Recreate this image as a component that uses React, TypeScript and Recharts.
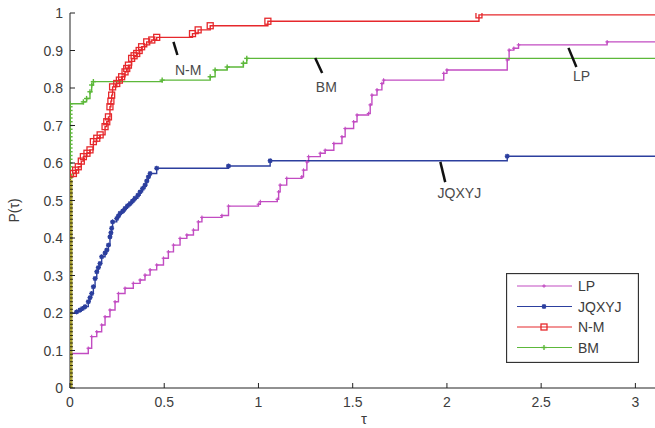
import React from 'react';
import { LineChart, Line, XAxis, YAxis, Legend, ReferenceLine, ReferenceDot } from 'recharts';

// ---------- data ----------
const TAU_TICKS = [0, 0.5, 1, 1.5, 2, 2.5, 3];
const P_TICKS = [0, 0.1, 0.2, 0.3, 0.4, 0.5, 0.6, 0.7, 0.8, 0.9, 1];
const TAU_MAX = 3.12;

const SERIES_NAMES = ['LP', 'JQXYJ', 'N-M', 'BM'];

const LP_POINTS: [number, number][] = [
  [0, 0.092], [0.097, 0.106], [0.115, 0.137], [0.142, 0.15], [0.168, 0.168], [0.186, 0.19],
  [0.212, 0.208], [0.239, 0.23], [0.257, 0.252], [0.292, 0.266], [0.336, 0.279], [0.372, 0.288],
  [0.398, 0.301], [0.425, 0.315], [0.46, 0.328], [0.496, 0.346], [0.522, 0.363], [0.549, 0.381],
  [0.584, 0.399], [0.62, 0.408], [0.655, 0.421], [0.681, 0.443], [0.7, 0.455], [0.806, 0.46],
  [0.841, 0.485], [1.0, 0.49], [1.01, 0.497], [1.1, 0.503], [1.107, 0.523], [1.115, 0.541],
  [1.15, 0.559], [1.23, 0.563], [1.239, 0.581], [1.257, 0.603], [1.266, 0.617], [1.328, 0.626],
  [1.354, 0.634], [1.4, 0.652], [1.443, 0.67], [1.46, 0.692], [1.505, 0.71], [1.523, 0.728],
  [1.584, 0.732], [1.593, 0.755], [1.602, 0.781], [1.629, 0.795], [1.655, 0.812], [1.664, 0.821],
  [1.983, 0.839], [2.0, 0.848], [2.32, 0.875], [2.33, 0.901], [2.355, 0.906], [2.38, 0.915],
  [2.85, 0.923], [3.12, 0.923],
];

const JQXYJ_POINTS: [number, number][] = [
  [0, 0.199], [0.035, 0.203], [0.053, 0.208], [0.066, 0.212], [0.08, 0.217], [0.097, 0.23],
  [0.106, 0.241], [0.115, 0.252], [0.124, 0.27], [0.133, 0.292], [0.142, 0.31], [0.15, 0.321],
  [0.159, 0.332], [0.168, 0.35], [0.186, 0.36], [0.195, 0.368], [0.204, 0.381], [0.212, 0.403],
  [0.217, 0.414], [0.221, 0.426], [0.226, 0.443], [0.248, 0.452], [0.257, 0.459], [0.266, 0.466],
  [0.28, 0.472], [0.292, 0.479], [0.305, 0.486], [0.319, 0.492], [0.332, 0.499], [0.345, 0.506],
  [0.36, 0.514], [0.372, 0.523], [0.385, 0.532], [0.398, 0.541], [0.407, 0.552], [0.416, 0.563],
  [0.425, 0.572], [0.46, 0.586], [0.841, 0.592], [1.062, 0.606], [2.32, 0.618], [3.12, 0.618],
];

// markers stacked at tau = 0
const NM_ZERO_P = [
  0, 0.01, 0.02, 0.03, 0.04, 0.05, 0.06, 0.07, 0.08, 0.09, 0.1, 0.11, 0.12, 0.13, 0.14, 0.15,
  0.16, 0.17, 0.18, 0.19, 0.2, 0.21, 0.22, 0.23, 0.24, 0.25, 0.26, 0.27, 0.28, 0.29, 0.3, 0.31,
  0.32, 0.33, 0.34, 0.35, 0.36, 0.37, 0.38, 0.39, 0.4, 0.41, 0.42, 0.43, 0.44, 0.45, 0.46, 0.47,
  0.48, 0.49, 0.5, 0.51, 0.52, 0.53, 0.54, 0.55,
];
const NM_POINTS: [number, number][] = [
  [0, 0.563], [0.018, 0.572], [0.03, 0.581], [0.044, 0.59], [0.06, 0.605], [0.071, 0.617],
  [0.09, 0.626], [0.106, 0.635], [0.124, 0.657], [0.142, 0.666], [0.16, 0.675], [0.186, 0.697],
  [0.195, 0.71], [0.204, 0.723], [0.212, 0.75], [0.217, 0.765], [0.221, 0.781], [0.226, 0.803],
  [0.248, 0.812], [0.262, 0.821], [0.274, 0.83], [0.292, 0.843], [0.301, 0.852], [0.31, 0.861],
  [0.327, 0.879], [0.34, 0.886], [0.354, 0.892], [0.367, 0.9], [0.38, 0.91], [0.407, 0.923],
  [0.434, 0.928], [0.46, 0.935], [0.65, 0.945], [0.68, 0.955], [0.744, 0.966], [1.05, 0.978],
  [2.17, 0.995], [3.12, 0.995],
];

const BM_ZERO_P = [
  0, 0.57, 0.58, 0.59, 0.6, 0.61, 0.62, 0.63, 0.64, 0.65, 0.66, 0.67, 0.68, 0.69, 0.7, 0.71,
  0.72, 0.73, 0.74, 0.75,
];
const BM_POINTS: [number, number][] = [
  [0, 0.758], [0.071, 0.763], [0.088, 0.772], [0.106, 0.79], [0.115, 0.808], [0.124, 0.817],
  [0.489, 0.821], [0.744, 0.83], [0.77, 0.848], [0.834, 0.856], [0.92, 0.866], [0.938, 0.879],
  [3.12, 0.879],
];

// annotation: label, text position, pointer start, pointer end (data coordinates)
const ANNOTATIONS: { label: string; text: [number, number]; from: [number, number]; to: [number, number] }[] = [
  { label: 'N-M', text: [0.627, 0.848], from: [0.549, 0.923], to: [0.570, 0.888] },
  { label: 'BM', text: [1.36, 0.803], from: [1.301, 0.88], to: [1.338, 0.84] },
  { label: 'LP', text: [2.714, 0.832], from: [2.645, 0.907], to: [2.687, 0.856] },
  { label: 'JQXYJ', text: [2.066, 0.52], from: [1.965, 0.603], to: [1.991, 0.549] },
];

// ---------- styling ----------
const FONT = '"Liberation Sans", Arial, Helvetica, sans-serif';
const TEXT = '#3c3c3c';
const COLORS: Record<string, string> = {
  LP: '#c24cc2',
  JQXYJ: '#2c3f9e',
  'N-M': '#e6282c',
  BM: '#5cb83a',
};
const LINE_W = 1.4;

const toData = (pts: [number, number][]) => pts.map(([x, y]) => ({ x, y }));
const lpData = toData(LP_POINTS);
const jqData = toData(JQXYJ_POINTS);
const nmData = [...NM_ZERO_P.map((y) => ({ x: 0, y })), ...toData(NM_POINTS)];
const bmData = [...BM_ZERO_P.map((y) => ({ x: 0, y })), ...toData(BM_POINTS)];

const Marker = ({ name, cx, cy, zero }: { name: string; cx: number; cy: number; zero?: boolean }) => {
  const c = COLORS[name];
  if (name === 'N-M') {
    if (zero) {
      return (
        <g>
          <rect x={cx - 2.5} y={cy - 2} width={5} height={4} fill="#a8a02c" />
          <line x1={cx - 3} x2={cx + 3} y1={cy} y2={cy} stroke="#2e2a10" strokeWidth={1} />
        </g>
      );
    }
    return <rect x={cx - 3} y={cy - 3} width={6} height={6} fill="none" stroke={c} strokeWidth={1.3} />;
  }
  if (name === 'JQXYJ') {
    return (
      <g stroke={c} strokeWidth={1.2}>
        <line x1={cx - 2.5} x2={cx + 2.5} y1={cy} y2={cy} />
        <line x1={cx} x2={cx} y1={cy - 2.5} y2={cy + 2.5} />
        <line x1={cx - 1.8} x2={cx + 1.8} y1={cy - 1.8} y2={cy + 1.8} />
        <line x1={cx - 1.8} x2={cx + 1.8} y1={cy + 1.8} y2={cy - 1.8} />
        <circle cx={cx} cy={cy} r={1.5} fill={c} />
      </g>
    );
  }
  if (name === 'BM') {
    return (
      <g stroke={c} strokeWidth={1.4}>
        <line x1={cx - 2.6} x2={cx + 2.6} y1={cy} y2={cy} />
        <line x1={cx} x2={cx} y1={cy - 2.6} y2={cy + 2.6} />
      </g>
    );
  }
  return (
    <g stroke={c} strokeWidth={1.1}>
      <line x1={cx - 1.8} x2={cx + 1.8} y1={cy} y2={cy} />
      <line x1={cx} x2={cx} y1={cy - 1.8} y2={cy + 1.8} />
    </g>
  );
};

const makeDot = (name: string) => (props: any) => {
  const { cx, cy, index, payload } = props;
  if (cx == null || cy == null || payload?.x >= TAU_MAX) return <g key={`${name}-${index}`} />;
  return (
    <g key={`${name}-${index}`}>
      <Marker name={name} cx={cx} cy={cy} zero={payload?.x === 0} />
    </g>
  );
};

const BottomTick = (props: any) => {
  const { x, y, payload } = props;
  return (
    <g>
      <line x1={x} x2={x} y1={y} y2={y - 5} stroke="#222" strokeWidth={1} />
      <text x={x} y={y + 19} textAnchor="middle" fontSize={14} fontFamily={FONT} fill={TEXT}>
        {String(payload.value)}
      </text>
    </g>
  );
};
const TopTick = (props: any) => {
  const { x, y } = props;
  return <line x1={x} x2={x} y1={y} y2={y + 5} stroke="#222" strokeWidth={1} />;
};
const LeftTick = (props: any) => {
  const { x, y, payload } = props;
  return (
    <g>
      <line x1={x} x2={x + 5} y1={y} y2={y} stroke="#222" strokeWidth={1} />
      <text x={x - 7} y={y} dy="0.36em" textAnchor="end" fontSize={14} fontFamily={FONT} fill={TEXT}>
        {String(payload.value)}
      </text>
    </g>
  );
};
const RightTick = (props: any) => {
  const { x, y } = props;
  return <line x1={x} x2={x - 5} y1={y} y2={y} stroke="#222" strokeWidth={1} />;
};

const YLabel = (props: any) => {
  const vb = props.viewBox || { x: 0, y: 13, width: 70, height: 375 };
  const cx = vb.x + 14;
  const cy = vb.y + vb.height / 2 + 10;
  return (
    <text x={cx} y={cy} transform={`rotate(-90 ${cx} ${cy})`} textAnchor="middle" dy="0.35em" fontSize={14} fontFamily={FONT} fill={TEXT}>
      P(τ)
    </text>
  );
};
const XLabel = (props: any) => {
  const vb = props.viewBox || { x: 70, y: 388, width: 588, height: 40 };
  return (
    <text x={vb.x + vb.width / 2} y={vb.y + 36} textAnchor="middle" fontSize={15} fontFamily={FONT} fill={TEXT}>
      τ
    </text>
  );
};

const LegendContent = () => (
  <svg width={133} height={90} style={{ display: 'block' }}>
    <rect x={0.5} y={0.5} width={132} height={89} fill="#fff" stroke="#333" strokeWidth={1.3} />
    {SERIES_NAMES.map((name, i) => {
      const y = 13 + i * 20.5;
      return (
        <g key={name}>
          <line x1={11} x2={66} y1={y} y2={y} stroke={COLORS[name]} strokeWidth={1.2} />
          <Marker name={name} cx={38} cy={y} />
          <text x={72} y={y} dy="0.36em" fontSize={14} fontFamily={FONT} fill={TEXT}>
            {name}
          </text>
        </g>
      );
    })}
  </svg>
);

const AnnotationText = (label: string) => (props: any) => (
  <text x={props.cx} y={props.cy} textAnchor="middle" dy="0.36em" fontSize={14} fontFamily={FONT} fill="#4a4a4a">
    {label}
  </text>
);

export default function App() {
  return (
    <div style={{ position: 'absolute', left: 0, top: 0, width: 655, height: 428, overflow: 'hidden', background: '#fff' }}>
      <LineChart width={660} height={428} margin={{ top: 13, right: 2, bottom: 0, left: 0 }}>
        <XAxis
          dataKey="x"
          type="number"
          domain={[0, TAU_MAX]}
          ticks={TAU_TICKS}
          allowDataOverflow
          height={40}
          tickSize={0}
          tickMargin={0}
          tick={<BottomTick />}
          axisLine={{ stroke: '#222', strokeWidth: 1 }}
          label={<XLabel />}
        />
        <XAxis
          xAxisId="top"
          orientation="top"
          dataKey="x"
          type="number"
          domain={[0, TAU_MAX]}
          ticks={TAU_TICKS}
          allowDataOverflow
          height={0}
          tickSize={0}
          tickMargin={0}
          tick={<TopTick />}
          axisLine={{ stroke: '#222', strokeWidth: 1 }}
        />
        <YAxis
          type="number"
          domain={[0, 1]}
          ticks={P_TICKS}
          allowDataOverflow
          width={70}
          tickSize={0}
          tickMargin={0}
          tick={<LeftTick />}
          axisLine={{ stroke: '#222', strokeWidth: 1 }}
          label={<YLabel />}
        />
        <YAxis
          yAxisId="right"
          orientation="right"
          type="number"
          domain={[0, 1]}
          ticks={P_TICKS}
          allowDataOverflow
          width={0}
          tickSize={0}
          tickMargin={0}
          tick={<RightTick />}
          axisLine={{ stroke: '#222', strokeWidth: 1 }}
        />
        <Line data={lpData} dataKey="y" name="LP" type="stepAfter" stroke={COLORS.LP} strokeWidth={LINE_W} dot={makeDot('LP')} isAnimationActive={false} />
        <Line data={jqData} dataKey="y" name="JQXYJ" type="stepAfter" stroke={COLORS.JQXYJ} strokeWidth={LINE_W} dot={makeDot('JQXYJ')} isAnimationActive={false} />
        <Line data={bmData} dataKey="y" name="BM" type="stepAfter" stroke={COLORS.BM} strokeWidth={LINE_W} dot={makeDot('BM')} isAnimationActive={false} />
        <Line data={nmData} dataKey="y" name="N-M" type="stepAfter" stroke={COLORS['N-M']} strokeWidth={LINE_W} dot={makeDot('N-M')} isAnimationActive={false} />
        {ANNOTATIONS.map((a) => (
          <ReferenceLine
            key={`ptr-${a.label}`}
            segment={[{ x: a.from[0], y: a.from[1] }, { x: a.to[0], y: a.to[1] }]}
            stroke="#111"
            strokeWidth={2.5}
            ifOverflow="visible"
          />
        ))}
        {ANNOTATIONS.map((a) => (
          <ReferenceDot key={`txt-${a.label}`} x={a.text[0]} y={a.text[1]} r={0} ifOverflow="visible" shape={AnnotationText(a.label)} />
        ))}
        <Legend
          layout="horizontal"
          verticalAlign="middle"
          align="center"
          content={<LegendContent />}
          wrapperStyle={{ position: 'absolute', left: 506, top: 273, width: 133, height: 90 }}
        />
      </LineChart>
    </div>
  );
}
